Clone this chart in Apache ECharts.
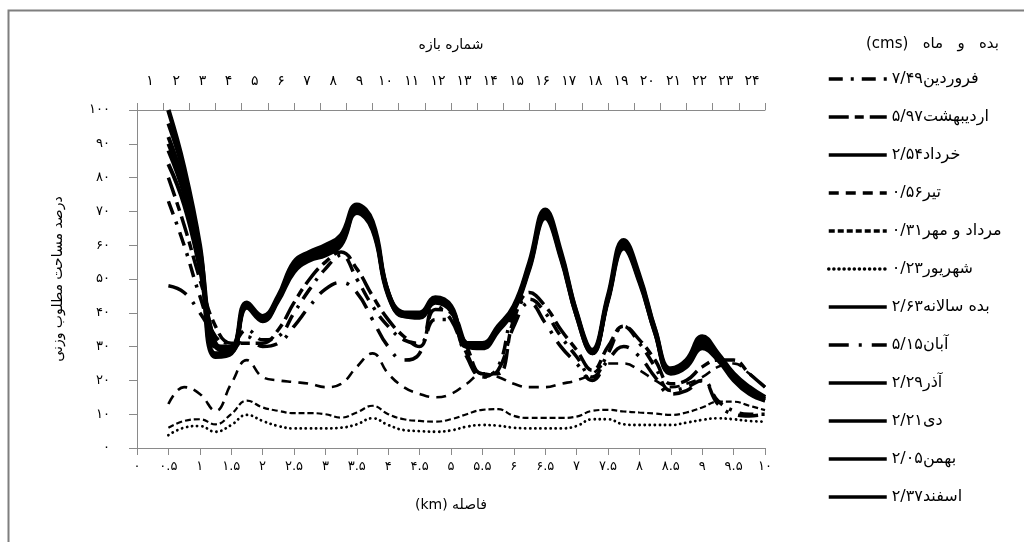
<!DOCTYPE html>
<html>
<head>
<meta charset="utf-8">
<script src="https://cdn.jsdelivr.net/npm/echarts@6/dist/echarts.min.js"></script>
<style>
html,body{margin:0;padding:0;background:#fff;}
#chart{width:1024px;height:542px;}
</style>
</head>
<body>
<div id="chart"></div>
<script>
// distance along the river (km)
const xKm = [0.5,0.75,1,1.25,1.5,1.75,2,2.25,2.5,2.75,3,3.25,3.5,3.75,4,4.25,4.5,4.75,5,5.25,5.5,5.75,6,6.25,6.5,6.75,7,7.25,7.5,7.75,8,8.25,8.5,8.75,9,9.25,9.5,9.75,10];

// tick labels
const xTickLabels = ['۰','۰.۵','۱','۱.۵','۲','۲.۵','۳','۳.۵','۴','۴.۵','۵','۵.۵','۶','۶.۵','۷','۷.۵','۸','۸.۵','۹','۹.۵','۱۰'];
const yTickLabels = ['۰','۱۰','۲۰','۳۰','۴۰','۵۰','۶۰','۷۰','۸۰','۹۰','۱۰۰'];
const topCategories = ['۱','۲','۳','۴','۵','۶','۷','۸','۹','۱۰','۱۱','۱۲','۱۳','۱۴','۱۵','۱۶','۱۷','۱۸','۱۹','۲۰','۲۱','۲۲','۲۳','۲۴'];

// series names
const seriesNames = ['فروردین۷/۴۹','اردیبهشت۵/۹۷','خرداد۲/۵۴','تیر۰/۵۶','مرداد و مهر۰/۳۱','شهریور۰/۲۳','بده سالانه۲/۶۳','آبان۵/۱۵','آذر۲/۲۹','دی۲/۲۱','بهمن۲/۰۵','اسفند۲/۳۷'];

// series values (% weighted usable area)
const farvardin = [73,60,45,33,31,35,32,33,40,47,53,57,50,42,36,32,31,38,38,28,21,24,40,44,40,33,27,21,28,36,31,24,17,18,20,14,11,10,10];
const ordibehesht = [80,66,50,36,31,31,31,35,43,50,55,58,53,45,38,33,30,41,40,30,22,22,38,46,42,35,29,23,30,36,32,26,19,20,24,26,26,22,18];
const khordad = [100,83,60,27,28,43,39,45,55,58,60,63,72,67,46,40,40,44.5,42,31,31,36,42,55,70.5,58,40,29,45,61.5,51,35,23.5,26,33,28,22,18,15];
const tir = [13,18,16,11,19,26,21,20,19.5,19,18,19,24,28,22,18,16,15,16,19,22,21,19,18,18,19,20,22,25,25,23,20,18,19,21,24,25,22,18];
const mordadMehr = [6,8,8.5,7,10,14,12,11,10.3,10.3,10,9,10.5,12.5,10,8.5,8,7.8,8.5,10,11.3,11.5,9.5,8.9,8.9,8.9,9.3,11,11.3,10.8,10.5,10.2,9.8,10.5,12,13.7,13.7,12.5,11.2];
const shahrivar = [3.8,6,6.5,4.8,6.8,9.8,8,6.5,5.8,5.8,5.8,6,7,8.8,6.8,5.3,5,4.8,5.2,6.3,6.8,6.6,6,5.8,5.8,5.8,6.5,8.5,8.5,7,6.8,6.8,6.8,7.5,8.3,8.8,8.5,8,7.8];
const salane = [96,81,59,31,29.5,42,38,44,53,57,59,62,71,66,46,40,39.5,44,41.5,31,30,35,41,54,69.5,57.5,40,28.5,44,60.5,50.5,35,23,25.5,32,27.5,21.5,17.5,15];
const aban = [48,46,40,33,29,33,30,31,36,42,47,49,46,38,30,26,28,42,38,27,21,23,36,43,37,30,25,20,26,30,27,21,16,17,20,13,10,9.5,10];
const azar = [92,78,57,30,30,42.5,38.5,44.5,54,56.5,58,61,70.5,65.5,45.5,39.5,39,44,41,30.5,30,35.5,41.5,54,69,57,39.5,28.5,44.5,60,50,34.5,22.5,25,31,27,21,17,14.5];
const dey = [88,75,55,31,29,42,38,44,53,56,57.5,60.5,70,65,45.5,39,39,43.5,41,30,30,35,41,53.5,68.5,56.5,39,28,44,59.5,49.5,34,22.5,24.5,30,26.5,20.5,16.5,14];
const bahman = [84,72,53,30,28.5,41.5,37.5,43.5,52,55.5,57,60,69.5,64.5,45,39,38.5,43,40.5,30,29.5,34.5,40.5,53,68,56,39,28,43.5,59,49,34,22,24,29.5,26,20,16,14];
const esfand = [90,77,58,28,28.5,42.5,38.5,44.5,54.5,57,58.5,61.5,71,66,46,39.5,39.5,44,41.5,30.5,30.5,35.5,41.5,54.5,69.5,57,39.5,28.5,44.5,60.5,50,34.5,23,25,31.5,27,21,17,14.5];

const seriesValues = [farvardin, ordibehesht, khordad, tir, mordadMehr, shahrivar, salane, aban, azar, dey, bahman, esfand];

const FONT = 'DejaVu Sans, Liberation Sans, sans-serif';
const lineStyles = [
  {width:3.5, type:[14,8,3,8], cap:'butt'},
  {width:3.5, type:[20,6,9,6], cap:'butt'},
  {width:4.5, type:'solid'},
  {width:2.6, type:[10,7], cap:'butt'},
  {width:2.2, type:[6,3], cap:'butt'},
  {width:2.8, type:[0.1,5], cap:'round'},
  {width:4, type:'solid'},
  {width:3.5, type:[20,10,3,10], cap:'butt'},
  {width:4, type:'solid'},
  {width:4, type:'solid'},
  {width:4, type:'solid'},
  {width:4, type:'solid'}
];

const series = seriesNames.map((name, i) => ({
  name: name,
  type: 'line',
  xAxisIndex: 0,
  data: xKm.map((x, j) => [x, seriesValues[i][j]]),
  smooth: 0.45,
  symbol: 'none',
  showSymbol: false,
  lineStyle: Object.assign({color:'#000'}, lineStyles[i]),
  itemStyle: {color:'#000'},
  animation: false
}));

const axisGray = '#8a8a8a';
const chart = echarts.init(document.getElementById('chart'));
chart.setOption({
  animation: false,
  backgroundColor: '#fff',
  textStyle: {fontFamily: FONT},
  grid: {left: 137, right: 259, top: 110, bottom: 94, containLabel: false},
  graphic: [
    {type:'rect', shape:{x:8.5, y:10.5, width:1100, height:600}, style:{fill:null, stroke:'#7f7f7f', lineWidth:2}, silent:true},
    {type:'text', left: 866, top: 37, style:{text:'(cms)   بده   و   ماه', font:'15px ' + FONT, fill:'#000'}}
  ],
  legend: {
    orient: 'vertical',
    left: 822,
    top: 66,
    itemWidth: 58,
    itemHeight: 15,
    itemGap: 22,
    data: seriesNames,
    itemStyle: {opacity: 0},
    lineStyle: {width: 3.5},
    textStyle: {fontSize: 16, color: '#000', fontFamily: FONT, lineHeight: 15},
    inactiveColor: '#000'
  },
  xAxis: [
    {
      type: 'value', position: 'bottom', min: 0, max: 10, interval: 0.5,
      name: '(km) فاصله', nameLocation: 'middle', nameGap: 50,
      nameTextStyle: {fontSize: 14, color: '#000', fontFamily: FONT},
      axisLine: {show: true, lineStyle: {color: axisGray, width: 1}},
      axisTick: {show: true, inside: false, length: 7, lineStyle: {color: axisGray}},
      axisLabel: {margin: 12, fontSize: 13, color: '#000', fontFamily: FONT,
        formatter: v => xTickLabels[Math.round(v / 0.5)]},
      splitLine: {show: false}
    },
    {
      type: 'category', position: 'top', data: topCategories, boundaryGap: true,
      name: 'شماره بازه', nameLocation: 'middle', nameGap: 58,
      nameTextStyle: {fontSize: 14, color: '#000', fontFamily: FONT},
      axisLine: {show: true, lineStyle: {color: axisGray, width: 1}},
      axisTick: {show: true, inside: false, length: 7, alignWithLabel: false, lineStyle: {color: axisGray}},
      axisLabel: {margin: 22, fontSize: 14, color: '#000', fontFamily: FONT, interval: 0},
      splitLine: {show: false}
    }
  ],
  yAxis: {
    type: 'value', min: 0, max: 100, interval: 10,
    name: 'درصد مساحت مطلوب وزنی', nameLocation: 'middle', nameGap: 72, nameRotate: 90,
    nameTextStyle: {fontSize: 14, color: '#000', fontFamily: FONT},
    axisLine: {show: true, lineStyle: {color: axisGray, width: 1}},
    axisTick: {show: true, inside: false, length: 8, lineStyle: {color: axisGray}},
    axisLabel: {margin: 27, fontSize: 13, color: '#000', fontFamily: FONT,
      formatter: v => yTickLabels[Math.round(v / 10)]},
    splitLine: {show: false}
  },
  series: series
});
</script>
</body>
</html>
